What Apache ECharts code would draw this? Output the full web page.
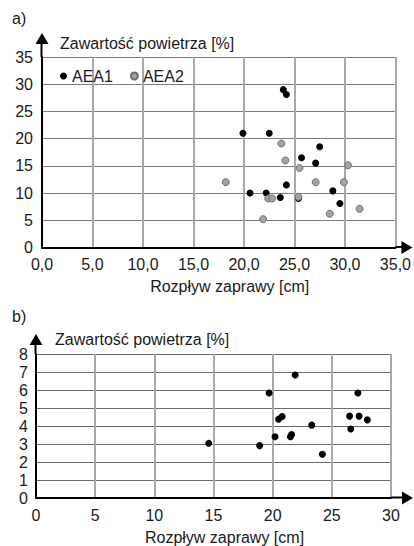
<!DOCTYPE html>
<html>
<head>
<meta charset="utf-8">
<script src="https://cdn.jsdelivr.net/npm/echarts/dist/echarts.min.js"></script>
<style>
  html, body { margin: 0; padding: 0; background: #fff; }
  #chart { width: 414px; height: 546px; }
</style>
</head>
<body>
<div id="chart"></div>
<script>
// a) air content vs. mortar flow, two admixtures
const aea1 = [
  [19.9, 21.0], [22.5, 21.0], [23.9, 29.0], [24.2, 28.1], [27.5, 18.5],
  [25.7, 16.5], [27.1, 15.5], [24.2, 11.5], [20.6, 10.0], [22.2, 10.0],
  [23.6, 9.2], [25.4, 9.0], [28.8, 10.4], [29.5, 8.1]
]
const aea2 = [
  [23.7, 19.1], [24.1, 16.0], [25.5, 14.6], [30.3, 15.1], [18.2, 12.0],
  [27.1, 12.0], [29.9, 12.0], [22.4, 9.0], [22.8, 9.0], [25.4, 9.3],
  [21.9, 5.2], [28.5, 6.2], [31.45, 7.1]
]
// b) air content vs. mortar flow
const seriesB = [
  [14.6, 3.04], [18.9, 2.91], [19.7, 5.83], [20.2, 3.40], [20.5, 4.38],
  [20.8, 4.53], [21.5, 3.40], [21.6, 3.53], [21.9, 6.83], [23.3, 4.05],
  [24.2, 2.43], [26.5, 4.55], [26.6, 3.83], [27.2, 5.83], [27.3, 4.55],
  [28.0, 4.34]
]
const xNameA = 'Rozpływ zaprawy [cm]'
const yNameA = 'Zawartość powietrza [%]'
const xNameB = 'Rozpływ zaprawy [cm]'
const yNameB = 'Zawartość powietrza [%]'

const font = 'Liberation Sans, Arial, sans-serif'
const textStyle = { fontFamily: font, fontSize: 16, color: '#1a1a1a' }

// triangle arrow head with a 2px stem so the axis line runs into it
function arrow(total) {
  return {
    symbol: ['none', 'path://M6.5,0L13,11L7,11L7,' + total + 'L5,' + total + 'L5,11L0,11Z'],
    symbolSize: [13, total],
    symbolOffset: [0, total / 2]
  }
}

function axisLine(total) {
  return Object.assign({ show: true, lineStyle: { color: '#000', width: 2 } }, arrow(total))
}

function splitLine(color, width) {
  return { show: true, lineStyle: { color: color, width: width, type: 'solid' } }
}

const chart = echarts.init(document.getElementById('chart'), null, { renderer: 'svg' })
chart.setOption({
  animation: false,
  textStyle: textStyle,
  graphic: [
    { type: 'text', left: 12, top: 10, style: { text: 'a)', font: '16px ' + font, fill: '#1a1a1a' } },
    { type: 'text', left: 12, top: 308, style: { text: 'b)', font: '16px ' + font, fill: '#1a1a1a' } }
  ],
  legend: {
    left: 55,
    top: 63,
    icon: 'circle',
    itemWidth: 7,
    itemHeight: 7,
    itemGap: 17,
    data: ['AEA1', 'AEA2'],
    textStyle: textStyle
  },
  grid: [
    { left: 42, top: 57, width: 354, height: 190.5 },
    { left: 36, top: 354, width: 355, height: 145.3 }
  ],
  xAxis: [{
    gridIndex: 0,
    type: 'value',
    min: 0,
    max: 35,
    interval: 5,
    axisLine: axisLine(17),
    axisTick: { show: false },
    axisLabel: Object.assign({ margin: 9, formatter: (v) => v.toFixed(1).replace('.', ',') }, textStyle),
    splitLine: splitLine('#a8a8a8', 2),
    name: xNameA,
    nameLocation: 'middle',
    nameGap: 31,
    nameTextStyle: Object.assign({ padding: [0, 0, 0, 22] }, textStyle)
  }, {
    gridIndex: 1,
    type: 'value',
    min: 0,
    max: 30,
    interval: 5,
    axisLine: axisLine(22),
    axisTick: { show: false },
    axisLabel: Object.assign({ margin: 9 }, textStyle),
    splitLine: splitLine('#a8a8a8', 2),
    name: xNameB,
    nameLocation: 'middle',
    nameGap: 31,
    nameTextStyle: Object.assign({ padding: [0, 0, 0, 22] }, textStyle)
  }],
  yAxis: [{
    gridIndex: 0,
    type: 'value',
    min: 0,
    max: 35,
    interval: 5,
    axisLine: axisLine(24),
    axisTick: { show: false },
    axisLabel: Object.assign({ margin: 9 }, textStyle),
    splitLine: splitLine('#7c7c7c', 1),
    name: yNameA,
    nameLocation: 'end',
    nameGap: 14,
    nameTextStyle: Object.assign({ align: 'left', verticalAlign: 'middle', padding: [0, 0, 0, 18] }, textStyle)
  }, {
    gridIndex: 1,
    type: 'value',
    min: 0,
    max: 8,
    interval: 1,
    axisLine: axisLine(20),
    axisTick: { show: false },
    axisLabel: Object.assign({ margin: 8 }, textStyle),
    splitLine: splitLine('#6c6c6c', 1),
    name: yNameB,
    nameLocation: 'end',
    nameGap: 15,
    nameTextStyle: Object.assign({ align: 'left', verticalAlign: 'middle', padding: [0, 0, 0, 19] }, textStyle)
  }],
  series: [{
    name: 'AEA1',
    type: 'scatter',
    xAxisIndex: 0,
    yAxisIndex: 0,
    symbolSize: 7,
    itemStyle: { color: '#000', opacity: 1 },
    data: aea1
  }, {
    name: 'AEA2',
    type: 'scatter',
    xAxisIndex: 0,
    yAxisIndex: 0,
    symbolSize: 7,
    itemStyle: { color: '#a3a3a3', borderColor: '#6e6e6e', borderWidth: 1, opacity: 1 },
    data: aea2
  }, {
    name: 'b',
    type: 'scatter',
    xAxisIndex: 1,
    yAxisIndex: 1,
    symbolSize: 7,
    itemStyle: { color: '#000', opacity: 1 },
    data: seriesB
  }]
})
</script>
</body>
</html>
